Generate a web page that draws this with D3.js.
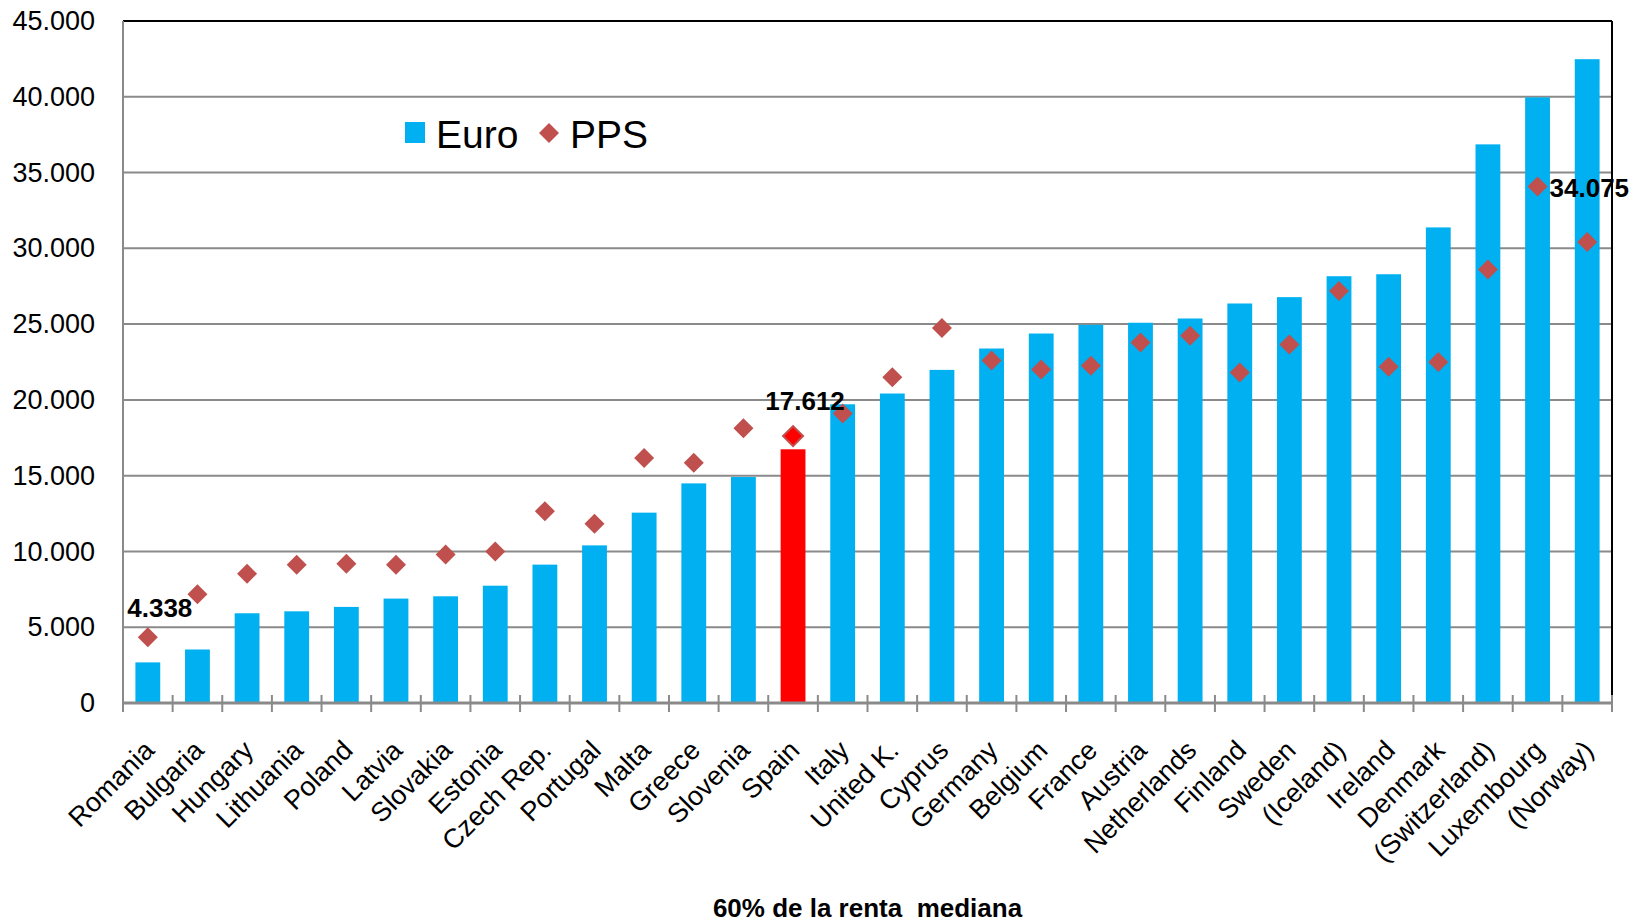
<!DOCTYPE html>
<html>
<head>
<meta charset="utf-8">
<script src="https://cdn.jsdelivr.net/npm/d3@7"></script>
<style>
  html, body { margin: 0; padding: 0; background: #fff; }
  svg { display: block; font-family: "Liberation Sans", Arial, sans-serif; }
</style>
</head>
<body>
<svg id="chart" width="1636" height="923"></svg>
<script>
// 60% of median income, Euro vs PPS
const categories = ["Romania", "Bulgaria", "Hungary", "Lithuania", "Poland", "Latvia", "Slovakia",
  "Estonia", "Czech Rep.", "Portugal", "Malta", "Greece", "Slovenia", "Spain", "Italy", "United K.",
  "Cyprus", "Germany", "Belgium", "France", "Austria", "Netherlands", "Finland", "Sweden",
  "(Iceland)", "Ireland", "Denmark", "(Switzerland)", "Luxembourg", "(Norway)"]

const euroValues = [2680, 3530, 5920, 6050, 6340, 6890, 7040, 7740, 9130, 10400, 12560, 14490,
  14910, 16740, 19710, 20420, 21980, 23390, 24380, 24950, 25090, 25370, 26360, 26780, 28160,
  28290, 31380, 36860, 39960, 42480]

const ppsValues = [4338, 7170, 8530, 9120, 9190, 9120, 9800, 10000, 12660, 11830, 16170, 15860,
  18130, 17612, 19100, 21500, 24740, 22600, 22000, 22250, 23790, 24230, 21800, 23660, 27190,
  22190, 22500, 28600, 34075, 30420]

const yTicks = [0, 5000, 10000, 15000, 20000, 25000, 30000, 35000, 40000, 45000]
const highlight = "Spain"
const pointLabels = [
  { cat: "Romania", text: "4.338", pos: "above" },
  { cat: "Spain", text: "17.612", pos: "above" },
  { cat: "Luxembourg", text: "34.075", pos: "right" }
]
const xTitle = "60% de la renta  mediana"

const svg = d3.select("#chart")
const width = +svg.attr("width")
const height = +svg.attr("height")
const margin = { top: 21, right: 24, bottom: 220, left: 123 }

const blue = "#00B0F0"
const red = "#FF0000"
const diamondColor = "#C0504D"
const gridColor = "#8a8a8a"

const x = d3.scaleBand()
  .domain(categories)
  .range([margin.left, width - margin.right])
  .paddingInner(0.5)
  .paddingOuter(0.25)

const y = d3.scaleLinear()
  .domain([0, 45000])
  .range([height - margin.bottom, margin.top])

const fmt = d3.formatLocale({ decimal: ",", thousands: ".", grouping: [3], currency: ["", "€"] }).format(",d")

const x0 = margin.left
const x1 = width - margin.right
const yBase = y(0)

// gridlines
svg.append("g")
  .selectAll("line")
  .data(yTicks.filter(t => t > 0 && t < 45000))
  .enter()
  .append("line")
  .attr("x1", x0)
  .attr("x2", x1)
  .attr("y1", d => y(d))
  .attr("y2", d => y(d))
  .attr("stroke", gridColor)
  .attr("stroke-width", 2)

// euro bars
svg.append("g")
  .selectAll("rect")
  .data(categories)
  .enter()
  .append("rect")
  .attr("x", d => x(d))
  .attr("width", x.bandwidth())
  .attr("y", (d, i) => y(euroValues[i]))
  .attr("height", (d, i) => yBase - y(euroValues[i]))
  .attr("fill", d => d === highlight ? red : blue)

// plot frame: black top/right, grey axes left/bottom
svg.append("line").attr("x1", x0).attr("x2", x1).attr("y1", y(45000)).attr("y2", y(45000))
  .attr("stroke", "#000").attr("stroke-width", 2)
svg.append("line").attr("x1", x1).attr("x2", x1).attr("y1", y(45000)).attr("y2", yBase)
  .attr("stroke", "#000").attr("stroke-width", 2)
svg.append("line").attr("x1", x0).attr("x2", x0).attr("y1", y(45000)).attr("y2", yBase)
  .attr("stroke", gridColor).attr("stroke-width", 2)
svg.append("line").attr("x1", x0).attr("x2", x1).attr("y1", yBase).attr("y2", yBase)
  .attr("stroke", gridColor).attr("stroke-width", 3)

// x tick marks at band boundaries (crossing the axis)
const boundaries = categories.map(c => x(c) + x.bandwidth() / 2 - x.step() / 2)
boundaries.push(x1)
svg.append("g")
  .selectAll("line")
  .data(boundaries)
  .enter()
  .append("line")
  .attr("x1", d => d)
  .attr("x2", d => d)
  .attr("y1", yBase - 8)
  .attr("y2", yBase + 9)
  .attr("stroke", gridColor)
  .attr("stroke-width", 2)

// y axis labels
const yAxis = d3.axisLeft(y)
  .tickValues(yTicks)
  .tickSize(0)
  .tickPadding(28)
  .tickFormat(fmt)

svg.append("g")
  .attr("transform", `translate(${x0},0)`)
  .call(yAxis)
  .call(g => g.select(".domain").remove())
  .selectAll("text")
  .attr("font-family", "'Liberation Sans', Arial, sans-serif")
  .attr("font-size", 27)
  .attr("fill", "#000")

// category labels, rotated
svg.append("g")
  .selectAll("text")
  .data(categories)
  .enter()
  .append("text")
  .attr("transform", d => `translate(${x(d) + x.bandwidth() / 2 + 8},${yBase + 49}) rotate(-45)`)
  .attr("text-anchor", "end")
  .attr("font-size", 27)
  .attr("fill", "#000")
  .text(d => d)

// PPS diamonds
const diamond = d3.symbol().type(d3.symbolSquare).size(200)
svg.append("g")
  .selectAll("path")
  .data(categories)
  .enter()
  .append("path")
  .attr("d", diamond)
  .attr("transform", (d, i) => `translate(${x(d) + x.bandwidth() / 2},${y(ppsValues[i])}) rotate(45)`)
  .attr("fill", d => d === highlight ? red : diamondColor)
  .attr("stroke", diamondColor)
  .attr("stroke-width", d => d === highlight ? 2 : 0)

// value labels
svg.append("g")
  .selectAll("text")
  .data(pointLabels)
  .enter()
  .append("text")
  .attr("x", d => x(d.cat) + x.bandwidth() / 2 + 12)
  .attr("y", d => {
    const v = ppsValues[categories.indexOf(d.cat)]
    return d.pos === "right" ? y(v) + 10 : y(v) - (d.cat === highlight ? 26 : 20)
  })
  .attr("text-anchor", d => d.pos === "right" ? "start" : "middle")
  .attr("font-size", 26)
  .attr("font-weight", "bold")
  .attr("fill", "#000")
  .text(d => d.text)

// legend
const legend = svg.append("g").attr("transform", "translate(405,122)")
legend.append("rect").attr("width", 20).attr("height", 21).attr("fill", blue)
legend.append("text").attr("x", 31).attr("y", 26).attr("font-size", 39).attr("fill", "#000").text("Euro")
legend.append("path").attr("d", diamond).attr("transform", "translate(144,11) rotate(45)")
  .attr("fill", diamondColor)
legend.append("text").attr("x", 165).attr("y", 26).attr("font-size", 39).attr("fill", "#000").text("PPS")

// x axis title
svg.append("text")
  .attr("x", (x0 + x1) / 2)
  .attr("y", height - 6)
  .attr("text-anchor", "middle")
  .attr("font-size", 26)
  .attr("font-weight", "bold")
  .attr("fill", "#000")
  .style("white-space", "pre")
  .text(xTitle)
</script>
</body>
</html>
